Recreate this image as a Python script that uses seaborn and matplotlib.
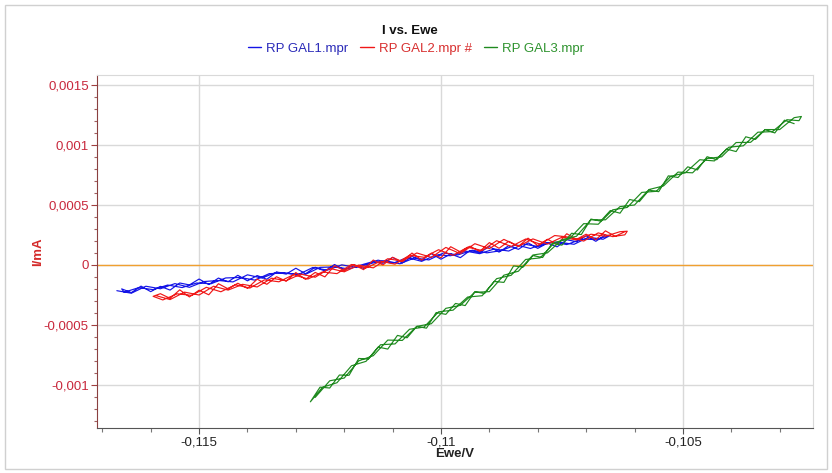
import matplotlib
matplotlib.use("Agg")
import matplotlib.pyplot as plt
from matplotlib.ticker import FixedLocator, MultipleLocator
import seaborn as sns
import numpy as np
import pandas as pd

sns.set_style("white")
plt.rcParams['font.family'] = ['Liberation Sans', 'DejaVu Sans']

# Data: Ewe in mV, I in nA (converted to V and mA below)
gal1_E_mV = [-116.7, -116.4, -116.1, -115.8, -115.5, -115.2, -114.9, -114.6, -114.3, -114.0,
             -113.7, -113.4, -113.1, -112.8, -112.5, -112.2, -111.9, -111.6, -111.3, -111.0,
             -110.7, -110.4, -110.1, -109.8, -109.5, -109.2, -108.9, -108.6, -108.3, -108.0,
             -107.7, -107.4, -107.1, -106.8, -106.5,
             -106.65, -106.95, -107.25, -107.55, -107.85, -108.15, -108.45, -108.75, -109.05, -109.35,
             -109.65, -109.95, -110.25, -110.55, -110.85, -111.15, -111.45, -111.75, -112.05, -112.35,
             -112.65, -112.95, -113.25, -113.55, -113.85, -114.15, -114.45, -114.75, -115.05, -115.35,
             -115.65, -115.95, -116.25, -116.55,
             -116.6, -116.4, -116.2, -116.0, -115.8, -115.6, -115.4, -115.2, -115.0, -114.8,
             -114.6, -114.4, -114.2, -114.0, -113.8, -113.6, -113.4, -113.2, -113.0, -112.8,
             -112.6, -112.4, -112.2, -112.0, -111.8, -111.6, -111.4, -111.2, -111.0, -110.8,
             -110.6, -110.4, -110.2, -110.0, -109.8, -109.6, -109.4, -109.2, -109.0, -108.8,
             -108.6, -108.4, -108.2, -108.0, -107.8, -107.6, -107.4, -107.2, -107.0, -106.8,
             -106.6]
gal1_I_nA = [-215, -236, -178, -199, -156, -187, -139, -130, -142, -83,
             -110, -61, -73, -79, -21, -17, -34, 5, 39, 12,
             61, 29, 83, 76, 115, 93, 132, 115, 174, 152,
             191, 169, 213, 212, 245,
             213, 230, 171, 188, 184, 136, 167, 119, 100, 122,
             83, 99, 41, 57, 9, 35, 12, -22, 0, -44,
             -22, -81, -69, -73, -127, -105, -109, -157, -151, -189,
             -168, -206, -190, -228,
             -200, -231, -177, -223, -179, -210, -151, -167, -118, -164,
             -110, -141, -87, -133, -89, -120, -61, -77, -28, -74,
             -20, -51, 3, -43, 1, -30, 29, 13, 62, 16,
             70, 39, 93, 47, 91, 60, 119, 103, 152, 106,
             160, 129, 183, 137, 181, 150, 209, 193, 242, 196,
             250]

gal2_E_mV = [-115.9, -115.6, -115.3, -115.0, -114.7, -114.4, -114.1, -113.8, -113.5, -113.2,
             -112.9, -112.6, -112.3, -112.0, -111.7, -111.4, -111.1, -110.8, -110.5, -110.2,
             -109.9, -109.6, -109.3, -109.0, -108.7, -108.4, -108.1, -107.8, -107.5, -107.2,
             -106.9, -106.6, -106.3, -106.15, -106.2,
             -106.45, -106.75, -107.05, -107.35, -107.65, -107.95, -108.25, -108.55, -108.85, -109.15,
             -109.45, -109.75, -110.05, -110.35, -110.65, -110.95, -111.25, -111.55, -111.85, -112.15,
             -112.45, -112.75, -113.05, -113.35, -113.65, -113.95, -114.25, -114.55, -114.85, -115.15,
             -115.45, -115.75, -115.95,
             -115.8, -115.6, -115.4, -115.2, -115.0, -114.8, -114.6, -114.4, -114.2, -114.0,
             -113.8, -113.6, -113.4, -113.2, -113.0, -112.8, -112.6, -112.4, -112.2, -112.0,
             -111.8, -111.6, -111.4, -111.2, -111.0, -110.8, -110.6, -110.4, -110.2, -110.0,
             -109.8, -109.6, -109.4, -109.2, -109.0, -108.8, -108.6, -108.4, -108.2, -108.0,
             -107.8, -107.6, -107.4, -107.2, -107.0, -106.8, -106.6, -106.4, -106.2]
gal2_I_nA = [-255, -289, -227, -251, -178, -210, -162, -184, -111, -132,
             -77, -103, -29, -58, -2, -25, 51, 31, 99, 62,
             145, 93, 176, 135, 212, 154, 216, 173, 230, 207,
             255, 238, 276, 280, 250,
             235, 266, 198, 231, 244, 172, 215, 153, 201, 119,
             147, 79, 126, 63, 80, 6, 30, -26, 3, -73,
             -59, -118, -82, -141, -125, -193, -166, -224, -187, -254,
             -241, -292, -262,
             -240, -279, -208, -267, -211, -249, -157, -200, -153, -196,
             -119, -162, -99, -136, -64, -121, -63, -100, -7, -48,
             1, -40, 40, -1, 63, 26, 98, 40, 97, 59,
             151, 108, 155, 112, 185, 138, 196, 154, 222, 160,
             213, 171, 259, 212, 255, 209, 283, 237, 276]

gal3_E_mV = [-112.6, -112.3, -112.0, -111.7, -111.4, -111.1, -110.8, -110.5, -110.2, -109.9,
             -109.6, -109.3, -109.0, -108.7, -108.4, -108.1, -107.8, -107.5, -107.2, -106.9,
             -106.6, -106.3, -106.0, -105.7, -105.4, -105.1, -104.8, -104.5, -104.2, -103.9,
             -103.6, -103.3, -103.0, -102.7, -102.55, -102.6,
             -102.85, -103.15, -103.45, -103.75, -104.05, -104.35, -104.65, -104.95, -105.25, -105.55,
             -105.85, -106.15, -106.45, -106.75, -107.05, -107.35, -107.65, -107.95, -108.25, -108.55,
             -108.85, -109.15, -109.45, -109.75, -110.05, -110.35, -110.65, -110.95, -111.25, -111.55,
             -111.85, -112.15, -112.45, -112.7,
             -112.5, -112.3, -112.1, -111.9, -111.7, -111.5, -111.3, -111.1, -110.9, -110.7,
             -110.5, -110.3, -110.1, -109.9, -109.7, -109.5, -109.3, -109.1, -108.9, -108.7,
             -108.5, -108.3, -108.1, -107.9, -107.7, -107.5, -107.3, -107.1, -106.9, -106.7,
             -106.5, -106.3, -106.1, -105.9, -105.7, -105.5, -105.3, -105.1, -104.9, -104.7,
             -104.5, -104.3, -104.1, -103.9, -103.7, -103.5, -103.3, -103.1, -102.9, -102.7]
gal3_I_nA = [-1103, -965, -942, -799, -756, -626, -629, -512, -490, -362,
             -337, -228, -223, -86, -53, 82, 100, 209, 238, 375,
             375, 485, 498, 627, 657, 772, 766, 885, 899, 1018,
             1020, 1126, 1126, 1225, 1235, 1200,
             1208, 1109, 1104, 991, 979, 865, 875, 766, 737, 612,
             603, 478, 458, 338, 343, 216, 187, 58, 45, -87,
             -115, -257, -268, -377, -391, -518, -536, -658, -665, -803,
             -840, -981, -1019, -1140,
             -1018, -1025, -917, -919, -779, -784, -684, -701, -587, -607,
             -512, -527, -397, -412, -321, -339, -223, -239, -138, -146,
             -9, -18, 77, 61, 180, 164, 263, 252, 381, 364,
             452, 430, 544, 526, 622, 609, 741, 727, 816, 790,
             900, 875, 964, 943, 1066, 1044, 1126, 1098, 1204, 1175]

series = ['RP GAL1.mpr', 'RP GAL2.mpr #', 'RP GAL3.mpr']
line_colors = ['#1414e6', '#f01818', '#1f8a1f']
text_colors = ['#2a2ab8', '#d83030', '#2e932e']

x_ticks = [-0.115, -0.11, -0.105]
x_labels = ['-0,115', '-0,11', '-0,105']
y_ticks = [-0.001, -0.0005, 0, 0.0005, 0.001, 0.0015]
y_labels = ['-0,001', '-0,0005', '0', '0,0005', '0,001', '0,0015']

df = pd.concat([
    pd.DataFrame({'Ewe/V': np.array(e) / 1000, 'I/mA': np.array(i) / 1e6, 'file': name})
    for e, i, name in [(gal1_E_mV, gal1_I_nA, series[0]),
                       (gal2_E_mV, gal2_I_nA, series[1]),
                       (gal3_E_mV, gal3_I_nA, series[2])]
])

fig = plt.figure(figsize=(8.32, 4.73), dpi=100)
ax = fig.add_axes([0.1166, 0.0951, 0.8606, 0.7463])

ax.axhline(0, color='#f0a030', lw=1.0, zorder=1)
for name, col in zip(series, line_colors):
    sub = df[df['file'] == name]
    sns.lineplot(data=sub, x='Ewe/V', y='I/mA', sort=False, estimator=None,
                 color=col, lw=0.85, ax=ax, label=name, zorder=3)

ax.set_xlim(-0.11711, -0.10231)
ax.set_ylim(-0.001358, 0.00158)

ax.xaxis.set_major_locator(FixedLocator(x_ticks))
ax.set_xticklabels(x_labels)
ax.xaxis.set_minor_locator(MultipleLocator(0.001))
ax.yaxis.set_major_locator(FixedLocator(y_ticks))
ax.set_yticklabels(y_labels)
ax.yaxis.set_minor_locator(MultipleLocator(0.0001))

ax.grid(True, which='major', color='#d9d9d9', lw=1.0, zorder=0)
ax.tick_params(axis='x', which='major', direction='out', length=4, width=0.8,
               color='#555555', labelsize=9.5, labelcolor='#222222', pad=2)
ax.tick_params(axis='x', which='minor', direction='out', length=3, width=0.8, color='#777777')
ax.tick_params(axis='y', which='major', direction='out', length=4, width=0.8,
               color='#a04040', labelsize=9.5, labelcolor='#c8283c', pad=2)
ax.tick_params(axis='y', which='minor', direction='out', length=2, width=0.8, color='#a06060')
ax.tick_params(bottom=True, left=True, which='both')

for side in ['top', 'right']:
    ax.spines[side].set_color('#d9d9d9')
ax.spines['left'].set_color('#8a4040')
ax.spines['bottom'].set_color('#555555')

ax.set_xlabel('Ewe/V', fontsize=9.5, fontweight='bold', color='#222222', labelpad=0)
ax.set_ylabel('I/mA', fontsize=9.5, fontweight='bold', color='#d42a2a')
ax.yaxis.set_label_coords(-0.074, 0.5)

leg = ax.legend(loc='center', bbox_to_anchor=(0.4455, 1.074), ncol=3, frameon=False,
                fontsize=9.5, handlelength=1.0, handletextpad=0.4, columnspacing=0.9)
for txt, col in zip(leg.get_texts(), text_colors):
    txt.set_color(col)
for h in leg.get_lines():
    h.set_linewidth(1.0)

fig.text(0.493, 0.934, 'I vs. Ewe', ha='center', va='center', fontsize=9.5,
         fontweight='bold', color='#111111')

# light frame around the whole picture
fig.patches.append(plt.Rectangle((0.006, 0.008), 0.988, 0.982, transform=fig.transFigure,
                                 fill=False, edgecolor='#d0d0d0', lw=1.0))

fig.savefig('out.png', dpi=100)
